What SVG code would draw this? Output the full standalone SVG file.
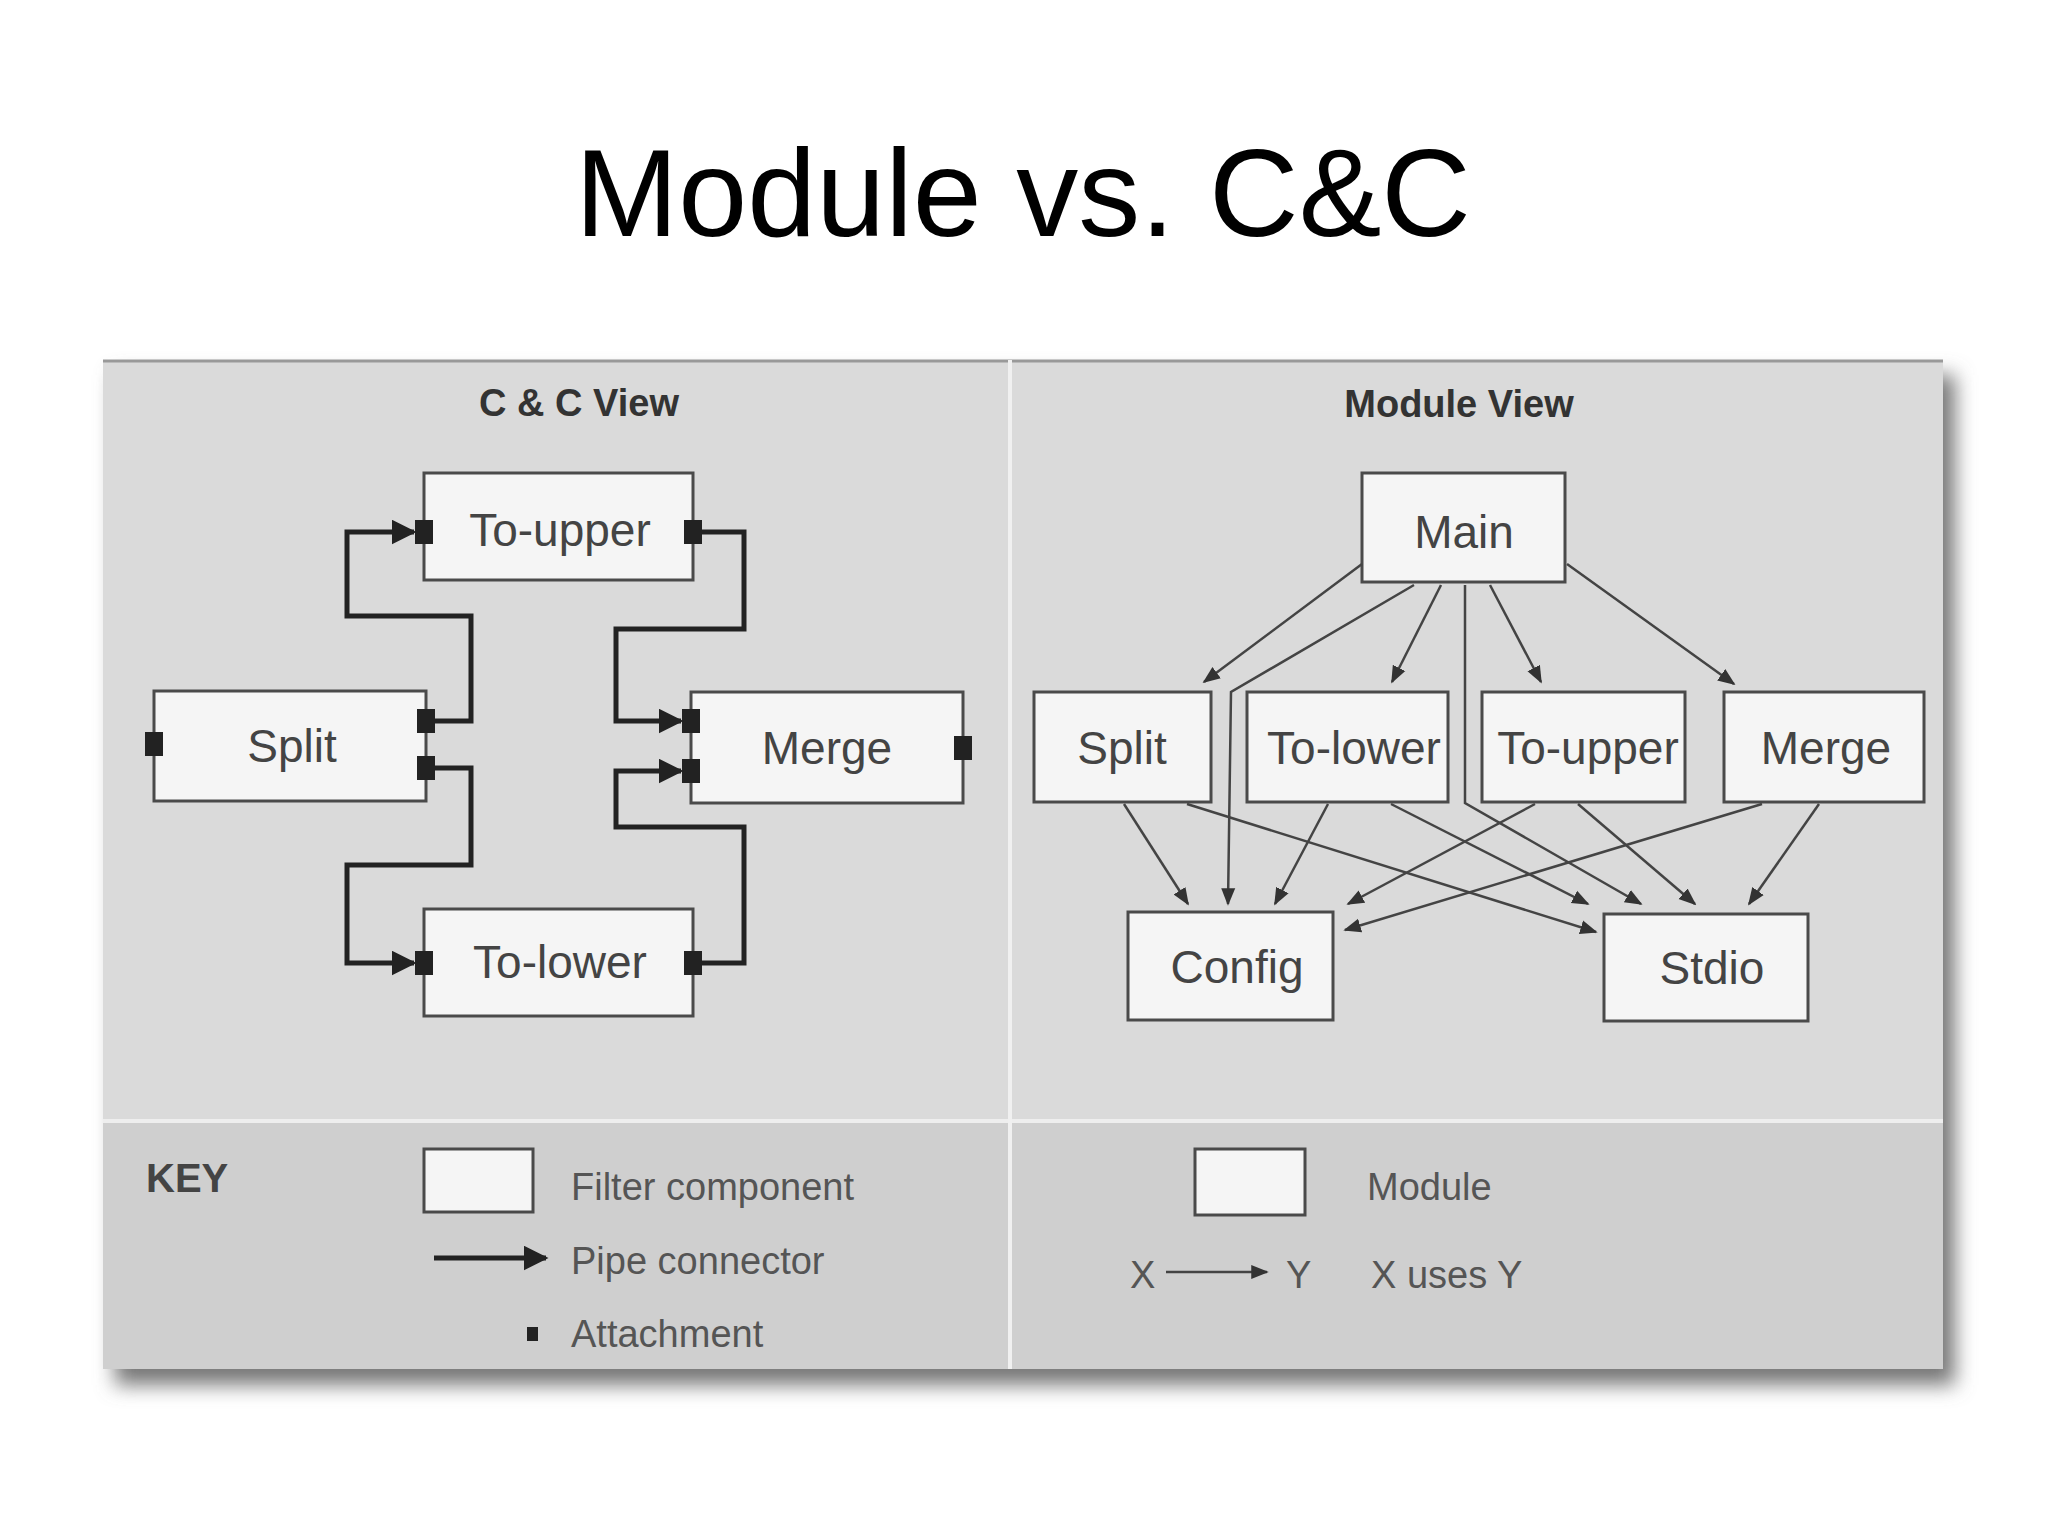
<svg xmlns="http://www.w3.org/2000/svg" width="2048" height="1536" viewBox="0 0 2048 1536">
<defs>
<style>
.box{fill:#f5f5f5;stroke:#4a4a4a;stroke-width:3}
.lbl{font-family:"Liberation Sans",Arial,sans-serif;font-size:46px;fill:#444;text-anchor:middle}
.hdr{font-family:"Liberation Sans",Arial,sans-serif;font-size:38px;font-weight:bold;fill:#333;text-anchor:middle}
.key{font-family:"Liberation Sans",Arial,sans-serif;font-size:38px;fill:#555}
.att{fill:#222}
.pipe{fill:none;stroke:#222;stroke-width:5}
.use{fill:none;stroke:#444;stroke-width:2.5}
</style>
<marker id="pa" viewBox="0 0 10 10" refX="9" refY="5" markerWidth="5" markerHeight="5" orient="auto" markerUnits="strokeWidth"><path d="M0,0 L10,5 L0,10 z" fill="#222"/></marker>
<marker id="ua" viewBox="0 0 10 10" refX="9" refY="5" markerWidth="7" markerHeight="7" orient="auto" markerUnits="strokeWidth"><path d="M0,1 L10,5 L0,9 z" fill="#333"/></marker>
<filter id="sh" x="-5%" y="-5%" width="110%" height="115%"><feGaussianBlur stdDeviation="10"/></filter>
</defs>
<rect width="2048" height="1536" fill="#fff"/>
<text x="1023" y="236" font-family="Liberation Sans,Arial,sans-serif" font-size="124" text-anchor="middle" fill="#000">Module vs. C&amp;C</text>
<rect x="115" y="375" width="1840" height="1010" fill="#777" filter="url(#sh)"/>
<rect x="103" y="360" width="1840" height="1009" fill="#dadada"/>
<rect x="103" y="1121" width="1840" height="248" fill="#cfcfcf"/>
<line x1="103" y1="361" x2="1943" y2="361" stroke="#999" stroke-width="3"/>
<line x1="103" y1="1121" x2="1943" y2="1121" stroke="#eee" stroke-width="4"/>
<line x1="1010" y1="360" x2="1010" y2="1369" stroke="#f0f0f0" stroke-width="4"/>
<text class="hdr" x="579" y="416">C &amp; C View</text>
<text class="hdr" x="1459" y="417">Module View</text>

<g id="cc-to-upper"><rect class="box" x="424" y="473" width="269" height="107"/><text class="lbl" x="560" y="546">To-upper</text><rect class="att" x="415" y="520" width="18" height="24"/><rect class="att" x="684" y="520" width="18" height="24"/></g>
<g id="cc-split"><rect class="box" x="154" y="691" width="272" height="110"/><text class="lbl" x="292" y="762">Split</text><rect class="att" x="145" y="732" width="18" height="24"/><rect class="att" x="417" y="709" width="18" height="24"/><rect class="att" x="417" y="756" width="18" height="24"/></g>
<g id="cc-merge"><rect class="box" x="691" y="692" width="272" height="111"/><text class="lbl" x="827" y="764">Merge</text><rect class="att" x="682" y="709" width="18" height="24"/><rect class="att" x="682" y="759" width="18" height="24"/><rect class="att" x="954" y="736" width="18" height="24"/></g>
<g id="cc-to-lower"><rect class="box" x="424" y="909" width="269" height="107"/><text class="lbl" x="560" y="978">To-lower</text><rect class="att" x="415" y="951" width="18" height="24"/><rect class="att" x="684" y="951" width="18" height="24"/></g>

<g id="cc-connectors">
<polyline class="pipe" marker-end="url(#pa)" points="434,721 471,721 471,616 347,616 347,532 414,532"/>
<polyline class="pipe" marker-end="url(#pa)" points="434,768 471,768 471,865 347,865 347,963 414,963"/>
<polyline class="pipe" marker-end="url(#pa)" points="701,532 744,532 744,629 616,629 616,721 681,721"/>
<polyline class="pipe" marker-end="url(#pa)" points="701,963 744,963 744,827 616,827 616,771 681,771"/>
</g>

<g id="m-main"><rect class="box" x="1362" y="473" width="203" height="109"/><text class="lbl" x="1464" y="548">Main</text></g>
<g id="m-split"><rect class="box" x="1034" y="692" width="177" height="110"/><text class="lbl" x="1122" y="764">Split</text></g>
<g id="m-to-lower"><rect class="box" x="1247" y="692" width="201" height="110"/><text class="lbl" x="1354" y="764">To-lower</text></g>
<g id="m-to-upper"><rect class="box" x="1482" y="692" width="203" height="110"/><text class="lbl" x="1588" y="764">To-upper</text></g>
<g id="m-merge"><rect class="box" x="1724" y="692" width="200" height="110"/><text class="lbl" x="1826" y="764">Merge</text></g>
<g id="m-config"><rect class="box" x="1128" y="912" width="205" height="108"/><text class="lbl" x="1237" y="983">Config</text></g>
<g id="m-stdio"><rect class="box" x="1604" y="914" width="204" height="107"/><text class="lbl" x="1712" y="984">Stdio</text></g>

<g id="m-connectors">
<line class="use" marker-end="url(#ua)" x1="1362" y1="564" x2="1204" y2="682"/>
<polyline class="use" marker-end="url(#ua)" points="1414,585 1231,692 1228,904"/>
<line class="use" marker-end="url(#ua)" x1="1441" y1="585" x2="1392" y2="682"/>
<line class="use" marker-end="url(#ua)" x1="1490" y1="585" x2="1541" y2="682"/>
<line class="use" marker-end="url(#ua)" x1="1567" y1="564" x2="1734" y2="684"/>
<polyline class="use" marker-end="url(#ua)" points="1465,585 1465,803 1641,904"/>
<line class="use" marker-end="url(#ua)" x1="1124" y1="804" x2="1188" y2="904"/>
<line class="use" marker-end="url(#ua)" x1="1187" y1="804" x2="1596" y2="932"/>
<line class="use" marker-end="url(#ua)" x1="1328" y1="804" x2="1275" y2="904"/>
<line class="use" marker-end="url(#ua)" x1="1391" y1="804" x2="1588" y2="904"/>
<line class="use" marker-end="url(#ua)" x1="1535" y1="804" x2="1348" y2="904"/>
<line class="use" marker-end="url(#ua)" x1="1578" y1="804" x2="1695" y2="904"/>
<line class="use" marker-end="url(#ua)" x1="1762" y1="804" x2="1345" y2="930"/>
<line class="use" marker-end="url(#ua)" x1="1819" y1="804" x2="1749" y2="904"/>
</g>

<g id="key">
<text x="146" y="1192" font-family="Liberation Sans,Arial,sans-serif" font-size="40" font-weight="bold" fill="#444">KEY</text>
<rect class="box" x="424" y="1149" width="109" height="63"/>
<text class="key" x="571" y="1200">Filter component</text>
<line class="pipe" marker-end="url(#pa)" x1="434" y1="1258" x2="546" y2="1258"/>
<text class="key" x="571" y="1274">Pipe connector</text>
<rect class="att" x="527" y="1327" width="11" height="14"/>
<text class="key" x="571" y="1347">Attachment</text>
<rect class="box" x="1195" y="1149" width="110" height="66"/>
<text class="key" x="1367" y="1200">Module</text>
<text class="key" x="1130" y="1288">X</text>
<line class="use" marker-end="url(#ua)" x1="1166" y1="1272" x2="1267" y2="1272"/>
<text class="key" x="1286" y="1288">Y</text>
<text class="key" x="1371" y="1288">X uses Y</text>
</g>
</svg>
